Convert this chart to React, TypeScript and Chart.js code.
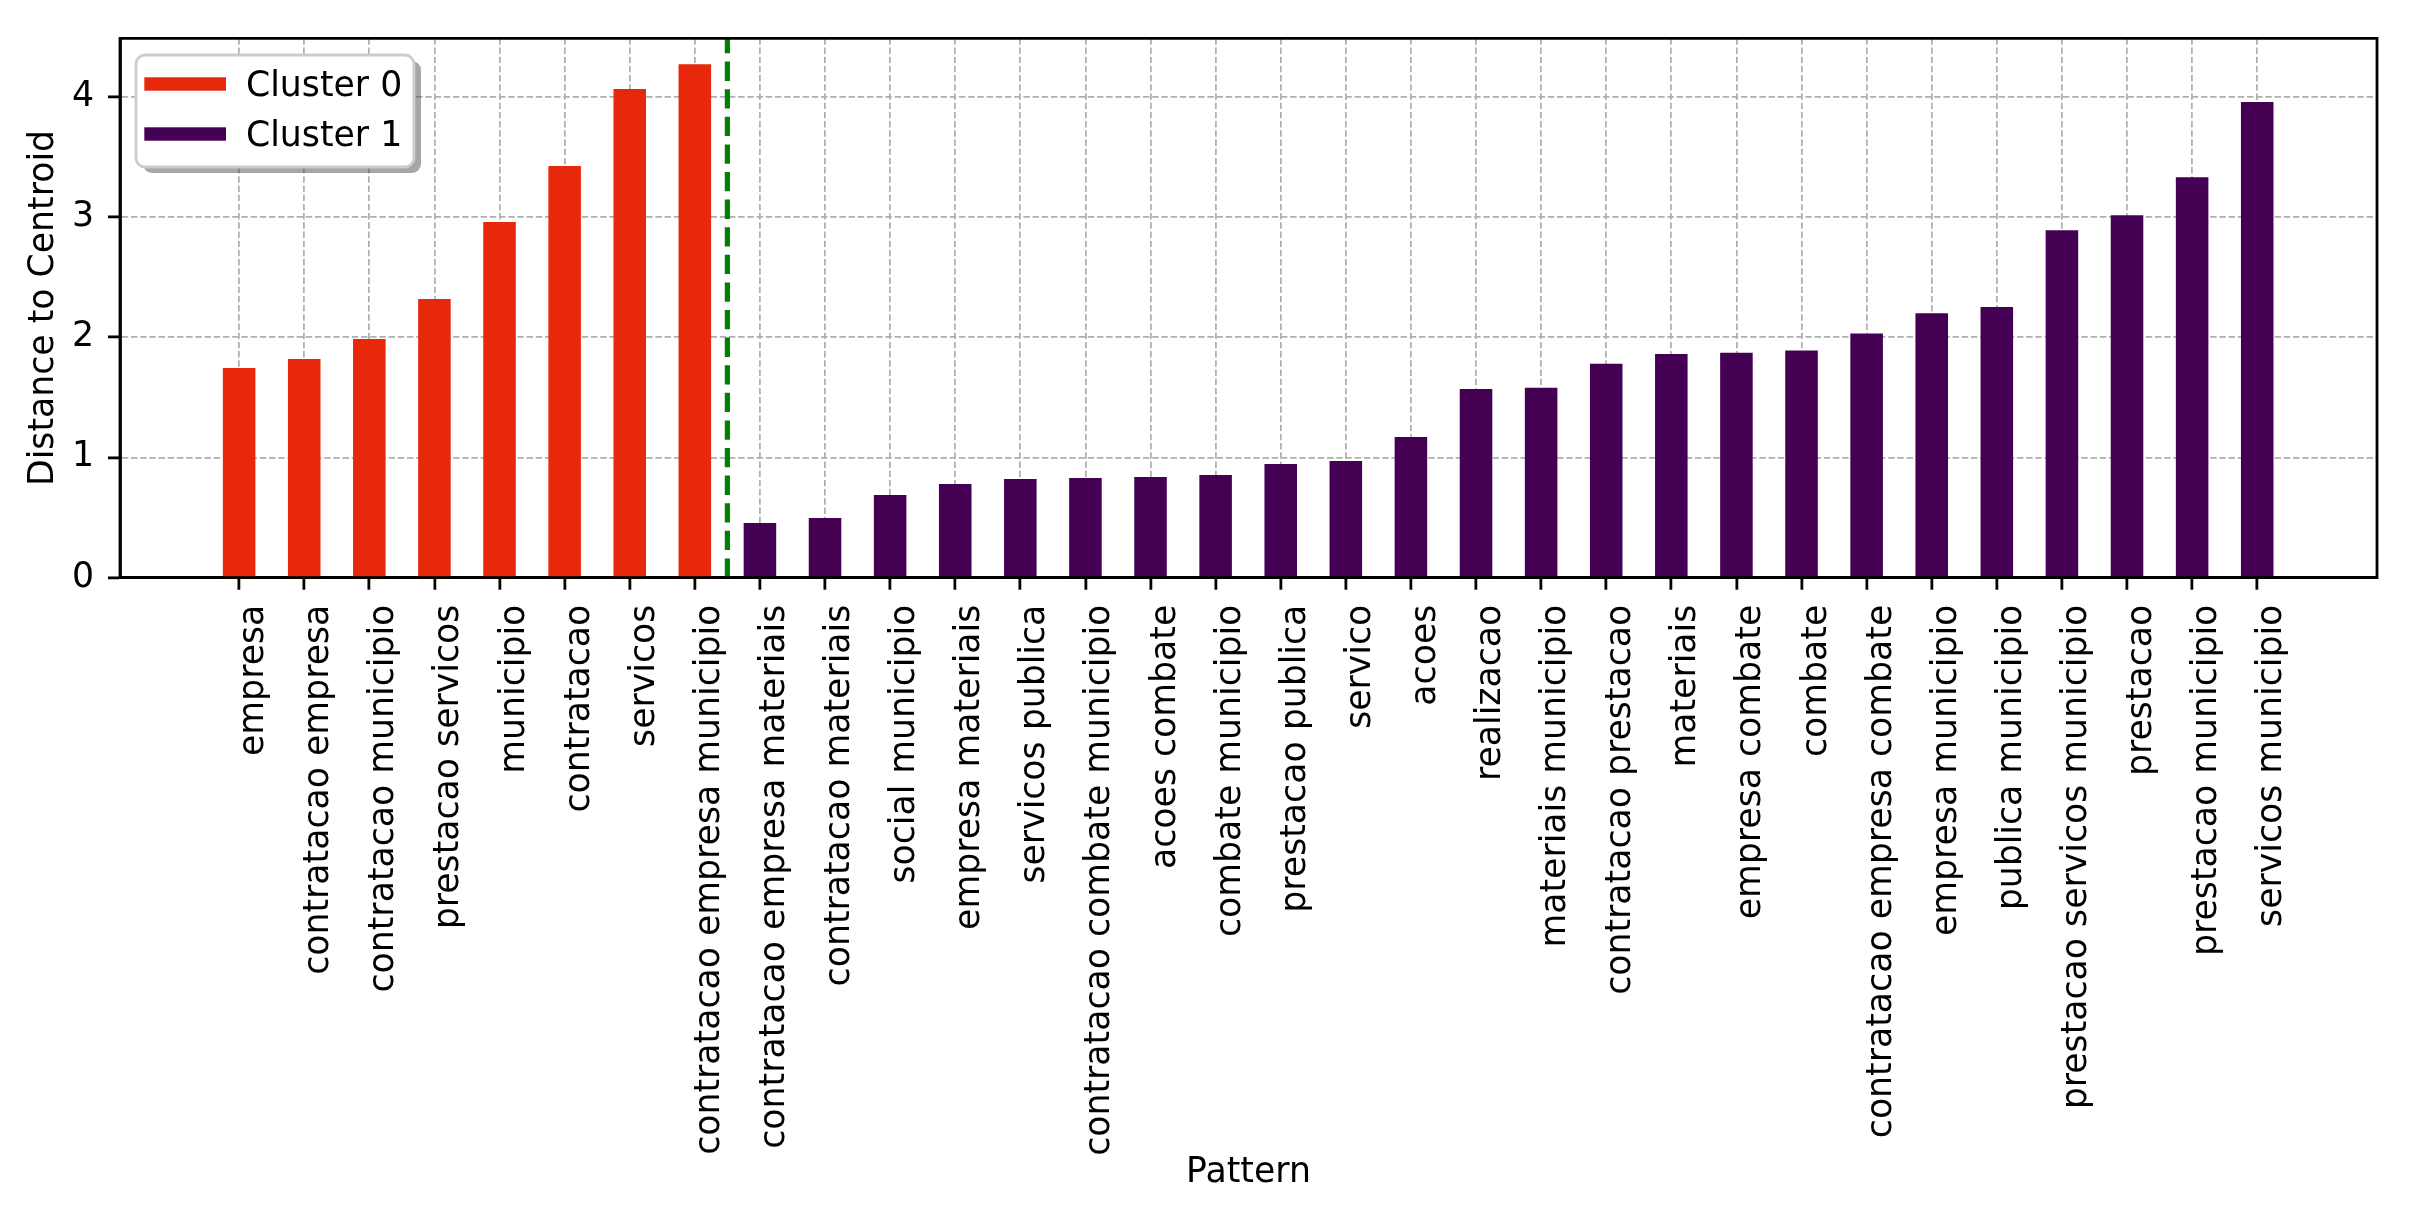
import React, { useEffect, useRef } from "react";
import { Chart, registerables } from "chart.js";

Chart.register(...registerables);

// ---------- data ----------
const categories: string[] = [
  "empresa",
  "contratacao empresa",
  "contratacao municipio",
  "prestacao servicos",
  "municipio",
  "contratacao",
  "servicos",
  "contratacao empresa municipio",
  "contratacao empresa materiais",
  "contratacao materiais",
  "social municipio",
  "empresa materiais",
  "servicos publica",
  "contratacao combate municipio",
  "acoes combate",
  "combate municipio",
  "prestacao publica",
  "servico",
  "acoes",
  "realizacao",
  "materiais municipio",
  "contratacao prestacao",
  "materiais",
  "empresa combate",
  "combate",
  "contratacao empresa combate",
  "empresa municipio",
  "publica municipio",
  "prestacao servicos municipio",
  "prestacao",
  "prestacao municipio",
  "servicos municipio",
];

const seriesLabels: string[] = ["Cluster 0", "Cluster 1"];

const cluster0Values: number[] = [1.743, 1.818, 1.986, 2.318, 2.959, 3.423, 4.064, 4.271];

const cluster1Values: number[] = [
  0.455, 0.496, 0.688, 0.779, 0.821, 0.829, 0.837, 0.854, 0.945, 0.97, 1.17,
  1.57, 1.58, 1.78, 1.86, 1.87, 1.89, 2.03, 2.2, 2.252, 2.89, 3.015, 3.331, 3.956,
];

const yTicks: number[] = [0, 1, 2, 3, 4];
const xLimits: [number, number] = [-1.83, 32.84];
const yLimits: [number, number] = [0, 4.486];

// ---------- styles ----------
const FONT_FAMILY = '"DejaVu Sans", "Liberation Sans", sans-serif';
const FONT_SIZE = 34.7;
const COLOR_0 = "#e8280a";
const COLOR_1 = "#440154";
const GRID_COLOR = "#b0b0b0";
const AXIS_W = 2.8;

const W = 2412;
const H = 1219;

function rrect(ctx: CanvasRenderingContext2D, x: number, y: number, w: number, h: number, r: number) {
  ctx.beginPath();
  ctx.moveTo(x + r, y);
  ctx.lineTo(x + w - r, y);
  ctx.arcTo(x + w, y, x + w, y + r, r);
  ctx.lineTo(x + w, y + h - r);
  ctx.arcTo(x + w, y + h, x + w - r, y + h, r);
  ctx.lineTo(x + r, y + h);
  ctx.arcTo(x, y + h, x, y + h - r, r);
  ctx.lineTo(x, y + r);
  ctx.arcTo(x, y, x + r, y, r);
  ctx.closePath();
}

const framePlugin = {
  id: "frameAndDivider",
  afterDatasetsDraw(chart: any) {
    const { ctx, chartArea, scales } = chart;
    const { left, right, top, bottom } = chartArea;
    ctx.save();
    // divider between clusters
    const xDiv = scales.x.getPixelForValue(cluster0Values.length - 0.5);
    ctx.strokeStyle = "#008000";
    ctx.lineWidth = 5.2;
    ctx.setLineDash([19.3, 8.3]);
    ctx.beginPath();
    ctx.moveTo(xDiv, bottom);
    ctx.lineTo(xDiv, top);
    ctx.stroke();
    // axes frame
    ctx.setLineDash([]);
    ctx.strokeStyle = "#000";
    ctx.lineWidth = AXIS_W;
    ctx.beginPath();
    ctx.rect(left, top, right - left, bottom - top);
    ctx.stroke();
    ctx.restore();
  },
};

const legendPlugin = {
  id: "boxLegend",
  afterDraw(chart: any) {
    const { ctx, chartArea } = chart;
    const x0 = chartArea.left + 16;
    const y0 = chartArea.top + 16.7;
    const w = 278;
    const h = 112;
    const r = 9;
    ctx.save();
    ctx.fillStyle = "rgba(77,77,77,0.5)";
    rrect(ctx, x0 + 7, y0 + 6, w, h, r);
    ctx.fill();
    ctx.fillStyle = "#ffffff";
    rrect(ctx, x0, y0, w, h, r);
    ctx.fill();
    ctx.strokeStyle = "#cccccc";
    ctx.lineWidth = 2.8;
    ctx.stroke();
    chart.data.datasets.forEach((ds: any, i: number) => {
      const cy = y0 + 29 + i * 50;
      ctx.fillStyle = ds.backgroundColor;
      ctx.fillRect(x0 + 8.3, cy - 6.7, 81.7, 13.4);
      ctx.fillStyle = "#000";
      ctx.font = `${FONT_SIZE}px ${FONT_FAMILY}`;
      ctx.textBaseline = "alphabetic";
      ctx.textAlign = "left";
      ctx.fillText(ds.label, x0 + 110, cy + 11.5);
    });
    ctx.restore();
  },
};

export default function App() {
  const canvasRef = useRef<HTMLCanvasElement | null>(null);

  useEffect(() => {
    document.body.style.margin = "0";
    document.body.style.overflow = "hidden";
    const canvas = canvasRef.current;
    if (!canvas) return;

    const data0 = cluster0Values.map((v, i) => ({ x: i, y: v }));
    const data1 = cluster1Values.map((v, i) => ({ x: i + cluster0Values.length, y: v }));

    const gridCommon = {
      color: GRID_COLOR,
      lineWidth: 1.75,
      offset: false,
      drawTicks: true,
      tickLength: 12,
      tickColor: "#000",
      tickWidth: AXIS_W,
      tickBorderDash: [],
    };
    const borderCommon = {
      display: true,
      color: "#000",
      width: AXIS_W,
      dash: [6.4, 2.8],
    };
    const tickFont = { family: FONT_FAMILY, size: FONT_SIZE };

    const chart = new Chart(canvas, {
      type: "bar",
      data: {
        datasets: [
          {
            label: seriesLabels[0],
            data: data0 as any,
            backgroundColor: COLOR_0,
            borderWidth: 0,
            grouped: false,
            barPercentage: 1,
            categoryPercentage: 0.5,
          } as any,
          {
            label: seriesLabels[1],
            data: data1 as any,
            backgroundColor: COLOR_1,
            borderWidth: 0,
            grouped: false,
            barPercentage: 1,
            categoryPercentage: 0.5,
          } as any,
        ],
      },
      options: {
        animation: false,
        responsive: false,
        maintainAspectRatio: false,
        layout: { padding: { top: 38.3, right: W - 2377, bottom: 0, left: 0 } },
        plugins: {
          legend: { display: false },
          tooltip: { enabled: false },
        },
        scales: {
          x: {
            type: "linear",
            offset: false,
            min: xLimits[0],
            max: xLimits[1],
            afterBuildTicks: (scale: any) => {
              scale.ticks = categories.map((_, i) => ({ value: i }));
            },
            afterFit: (scale: any) => {
              scale.height = H - 577.7;
            },
            ticks: {
              autoSkip: false,
              maxRotation: 90,
              minRotation: 90,
              padding: 15,
              labelOffset: 15,
              color: "#000",
              font: tickFont,
              callback: (v: any) => categories[Number(v)] ?? "",
            },
            grid: gridCommon as any,
            border: borderCommon as any,
            title: {
              display: true,
              text: "Pattern",
              color: "#000",
              font: tickFont,
              padding: { top: 0, bottom: 25 },
            },
          },
          y: {
            type: "linear",
            min: yLimits[0],
            max: yLimits[1],
            afterBuildTicks: (scale: any) => {
              scale.ticks = yTicks.map((v) => ({ value: v }));
            },
            afterFit: (scale: any) => {
              scale.width = 120;
            },
            ticks: {
              padding: 14,
              color: "#000",
              font: tickFont,
              callback: (v: any) => String(v),
            },
            grid: gridCommon as any,
            border: borderCommon as any,
            title: {
              display: true,
              text: "Distance to Centroid",
              color: "#000",
              font: tickFont,
              padding: { top: 23, bottom: 0 },
            },
          },
        },
      } as any,
      plugins: [framePlugin, legendPlugin],
    });

    return () => {
      chart.destroy();
    };
  }, []);

  return (
    <div style={{ width: W, height: H, background: "#fff" }}>
      <canvas ref={canvasRef} width={W} height={H} style={{ width: W, height: H, display: "block" }} />
    </div>
  );
}
